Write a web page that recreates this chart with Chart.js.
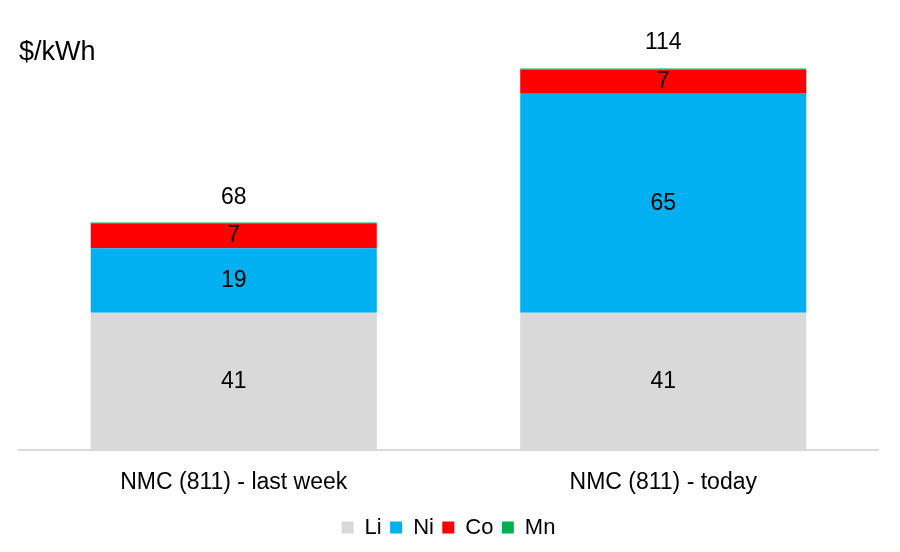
<!DOCTYPE html>
<html>
<head>
<meta charset="utf-8">
<script src="https://cdn.jsdelivr.net/npm/chart.js@4.4.1/dist/chart.umd.min.js"></script>
<style>
  html, body { margin: 0; padding: 0; background: #fff; }
  #contenedor { width: 900px; height: 552px; }
</style>
</head>
<body>
<div id="contenedor"><canvas id="costoChart"></canvas></div>
<script>
// Categorías y costo por metal en $/kWh
const categorias = ["NMC (811) - last week", "NMC (811) - today"];
const valoresLi = [41.0, 41.0];
const valoresNi = [19.3, 65.4];
const valoresCo = [7.2, 7.2];
const valoresMn = [0.5, 0.5];
const nombresSeries = ["Li", "Ni", "Co", "Mn"];
const coloresSeries = ["#d9d9d9", "#00b0f0", "#ff0000", "#00b050"];

const fuente = "'Liberation Sans', Arial, sans-serif";
Chart.defaults.font.family = fuente;
Chart.defaults.color = "#000";

// Plugin para escribir los valores de cada tramo y el total encima de la barra
const etiquetasPlugin = {
    id: "etiquetas",
    afterDatasetsDraw(chart) {
        const ctx = chart.ctx;
        ctx.save();
        ctx.font = "23px " + fuente;
        ctx.fillStyle = "#000";
        ctx.textAlign = "center";
        ctx.textBaseline = "middle";

        // Valor de cada tramo (el Mn es muy delgado, no lleva etiqueta)
        chart.data.datasets.forEach((ds, i) => {
            if (ds.label === "Mn") return;
            chart.getDatasetMeta(i).data.forEach((barra, j) => {
                ctx.fillText(Math.round(ds.data[j]), barra.x, (barra.y + barra.base) / 2);
            });
        });

        // Total arriba de la pila
        const ultimo = chart.getDatasetMeta(chart.data.datasets.length - 1);
        ultimo.data.forEach((barra, j) => {
            const total = chart.data.datasets.reduce((suma, ds) => suma + ds.data[j], 0);
            ctx.fillText(Math.round(total), barra.x, barra.y - 25);
        });
        ctx.restore();
    }
};

const series = [valoresLi, valoresNi, valoresCo, valoresMn];

new Chart(document.getElementById("costoChart"), {
    type: "bar",
    data: {
        labels: categorias,
        datasets: series.map((valores, i) => ({
            label: nombresSeries[i],
            data: valores,
            backgroundColor: coloresSeries[i],
            borderWidth: 0,
            categoryPercentage: 1,
            barPercentage: 0.666
        }))
    },
    options: {
        responsive: true,
        maintainAspectRatio: false,
        animation: false,
        events: [],
        layout: { padding: { top: 20, left: 19, right: 22, bottom: 3.5 } },
        scales: {
            x: {
                stacked: true,
                grid: { display: false },
                border: { color: "#d9d9d9", width: 2 },
                ticks: { color: "#000", font: { size: 23 }, padding: 11.25 }
            },
            y: {
                stacked: true,
                display: false,
                min: 0,
                max: 114
            }
        },
        plugins: {
            title: {
                display: true,
                text: "$/kWh",
                align: "start",
                color: "#000",
                font: { size: 27, weight: "normal" },
                padding: { top: 16, bottom: 0 }
            },
            legend: {
                position: "bottom",
                labels: {
                    boxWidth: 12,
                    boxHeight: 12,
                    padding: 8.4,
                    color: "#000",
                    font: { size: 22 }
                }
            },
            tooltip: { enabled: false }
        }
    },
    plugins: [etiquetasPlugin]
});
</script>
</body>
</html>
